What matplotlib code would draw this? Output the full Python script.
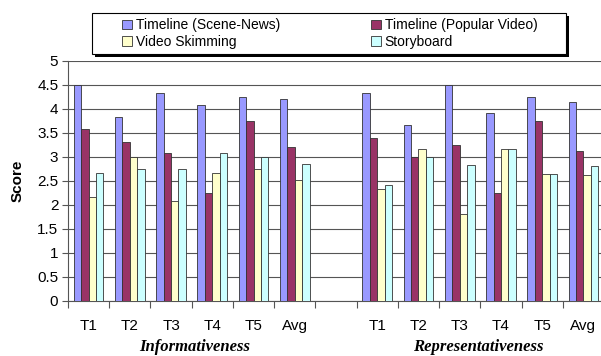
import numpy as np
import matplotlib
matplotlib.use("Agg")
import matplotlib.pyplot as plt
from matplotlib.patches import Rectangle, Patch

plt.rcParams['font.family'] = ['Liberation Sans', 'DejaVu Sans']

# dados
categorias = ['T1', 'T2', 'T3', 'T4', 'T5', 'Avg']
series = ['Timeline (Scene-News)', 'Timeline (Popular Video)', 'Video Skimming', 'Storyboard']
cores = ['#9999FF', '#993366', '#FFFFCC', '#CCFFFF']

info_scene = [4.50, 3.83, 4.33, 4.08, 4.24, 4.21]
info_popular = [3.58, 3.31, 3.08, 2.24, 3.75, 3.20]
info_skim = [2.16, 3.00, 2.08, 2.66, 2.74, 2.52]
info_story = [2.66, 2.74, 2.74, 3.08, 3.00, 2.85]

repr_scene = [4.33, 3.66, 4.50, 3.92, 4.24, 4.14]
repr_popular = [3.40, 3.00, 3.24, 2.24, 3.75, 3.12]
repr_skim = [2.33, 3.17, 1.82, 3.17, 2.65, 2.62]
repr_story = [2.41, 3.00, 2.83, 3.17, 2.65, 2.81]

grupos = ['Informativeness', 'Representativeness']

fig = plt.figure(figsize=(6.01, 3.56), dpi=100)
ax = fig.add_axes([68/601, 55/356, 536/601, 240/356])

pos_info = np.arange(6) + 0.5
pos_repr = np.arange(7, 13) + 0.5
largura = 0.18
offsets = [-0.27, -0.09, 0.09, 0.27]

dados_info = [info_scene, info_popular, info_skim, info_story]
dados_repr = [repr_scene, repr_popular, repr_skim, repr_story]
for k in range(4):
    ax.bar(pos_info + offsets[k], dados_info[k], largura, color=cores[k],
           edgecolor='#333333', linewidth=0.6, zorder=3)
    ax.bar(pos_repr + offsets[k], dados_repr[k], largura, color=cores[k],
           edgecolor='#333333', linewidth=0.6, zorder=3)

ax.set_xlim(0, 13)
ax.set_ylim(0, 5)
ax.set_yticks(np.arange(0, 5.01, 0.5))
ax.set_yticklabels(['{:g}'.format(v) for v in np.arange(0, 5.01, 0.5)], fontsize=11)
ax.yaxis.grid(True, color='#555555', linewidth=0.8, zorder=0)
ax.set_axisbelow(True)

ax.set_xticks(np.arange(0, 14))
ax.set_xticklabels([])
ax.set_xticks(np.concatenate([pos_info, pos_repr]), minor=True)
ax.set_xticklabels(categorias + categorias, minor=True, fontsize=11)
ax.tick_params(axis='x', which='major', length=5, direction='out', color='#555555')
ax.tick_params(axis='x', which='minor', length=0, pad=13)
ax.tick_params(axis='y', length=4, direction='out', color='#555555', pad=3)

for lado in ['top', 'right']:
    ax.spines[lado].set_visible(False)
ax.spines['left'].set_color('#555555')
ax.spines['bottom'].set_color('#555555')

ax.set_ylabel('Score', fontsize=11, fontweight='bold', labelpad=9)

# rotulos dos grupos
fig.text(195/601, 1 - 347/356, grupos[0], fontsize=12, fontweight='bold', style='italic',
         family='Liberation Serif', ha='center', va='center')
fig.text(478/601, 1 - 347/356, grupos[1], fontsize=12, fontweight='bold', style='italic',
         family='Liberation Serif', ha='center', va='center')

# legenda com moldura e sombra
fig.patches.append(Rectangle((95/601, 1 - 57/356), 474/601, 41/356, transform=fig.transFigure,
                             facecolor='black', edgecolor='none', zorder=0))
fig.patches.append(Rectangle((92/601, 1 - 54/356), 474/601, 41/356, transform=fig.transFigure,
                             facecolor='white', edgecolor='black', linewidth=0.8, zorder=1))
handles = [Patch(facecolor=cores[i], edgecolor='#333333', linewidth=0.6) for i in [0, 2, 1, 3]]
labels = [series[i] for i in [0, 2, 1, 3]]
fig.legend(handles, labels, ncol=2, loc='center', bbox_to_anchor=(330/601, 1 - 33.5/356),
           frameon=False, fontsize=10, handlelength=0.7, handleheight=0.7, handletextpad=0.3,
           columnspacing=6.5, labelspacing=0.15)

plt.savefig('out.png', dpi=100)
